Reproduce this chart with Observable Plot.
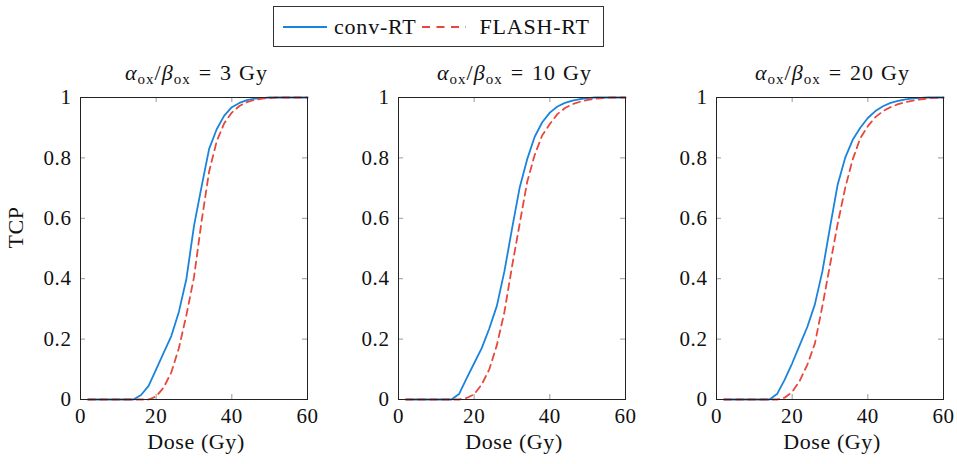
<!DOCTYPE html>
<html>
<head>
<meta charset="utf-8">
<script src="https://cdn.jsdelivr.net/npm/d3@7"></script>
<script src="https://cdn.jsdelivr.net/npm/@observablehq/plot@0.6"></script>
<style>
  html, body { margin: 0; padding: 0; background: white; }
  #chart { position: relative; width: 957px; height: 464px; color: #111; overflow: hidden; }
  .panel { position: absolute; top: 0; overflow: visible; }
  .title { position: absolute; top: 60px; width: 300px; text-align: center; white-space: nowrap; }
  .title sub { vertical-align: -4px; line-height: 0; }
  #legend { position: absolute; left: 273px; top: 6px; width: 329px; height: 39px; border: 1px solid #333; box-sizing: content-box; display: flex; align-items: center; }
  #legend .item { display: flex; align-items: center; }
  #legend svg { display: block; }
</style>
</head>
<body>
<div id="chart">
  <div id="legend"></div>
</div>
<script>
// ---- data ----
const doses = [2,4,6,8,10,12,14,16,18,20,22,24,26,28,30,32,34,36,38,40,42,44,46,48,50,52,54,56,58,60];
const panelTitles = ["3", "10", "20"];
const seriesNames = ["conv-RT", "FLASH-RT"];
const conv3  = [0,0,0,0,0,0,0,0.015,0.045,0.10,0.155,0.21,0.29,0.40,0.575,0.705,0.83,0.895,0.94,0.968,0.982,0.991,0.996,0.998,1,1,1,1,1,1];
const flash3 = [0,0,0,0,0,0,0,0,0,0.01,0.04,0.09,0.17,0.28,0.405,0.59,0.755,0.855,0.915,0.95,0.972,0.985,0.992,0.996,0.998,1,1,1,1,1];
const conv10  = [0,0,0,0,0,0,0,0.018,0.07,0.12,0.17,0.235,0.31,0.425,0.565,0.70,0.795,0.87,0.918,0.95,0.97,0.982,0.99,0.995,0.998,1,1,1,1,1];
const flash10 = [0,0,0,0,0,0,0,0,0.005,0.017,0.05,0.10,0.18,0.29,0.44,0.58,0.72,0.81,0.875,0.912,0.945,0.965,0.978,0.986,0.992,0.996,0.998,1,1,1];
const conv20  = [0,0,0,0,0,0,0,0.018,0.065,0.12,0.18,0.24,0.315,0.425,0.57,0.71,0.80,0.86,0.90,0.932,0.955,0.971,0.982,0.989,0.994,0.997,0.999,1,1,1];
const flash20 = [0,0,0,0,0,0,0,0,0.006,0.025,0.062,0.115,0.185,0.31,0.445,0.58,0.70,0.795,0.865,0.905,0.935,0.955,0.968,0.978,0.985,0.99,0.994,0.997,0.999,1];
const xTicks = [0, 20, 40, 60];
const yTicks = [0, 0.2, 0.4, 0.6, 0.8, 1];
const xInner = [20, 40];
const yInner = [0.2, 0.4, 0.6, 0.8];

const convAll = [conv3, conv10, conv20];
const flashAll = [flash3, flash10, flash20];

// ---- styles ----
const BLUE = "#1a84dc";
const RED = "#e8483c";
const DASH = "7,5";
const FONT = "'Liberation Serif', serif";
const FS = 21;
const frameLefts = [80, 398, 716];
const ML = 80, FW = 227, MR = 16, MT = 97, MB = 65, H = 464;
const TL = 5; // tick length

const chart = document.getElementById("chart");

for (let i = 0; i < 3; i++) {
  const conv = doses.map((d, j) => ({dose: d, tcp: convAll[i][j]}));
  const flash = doses.map((d, j) => ({dose: d, tcp: flashAll[i][j]}));
  const FH = H - MT - MB;
  const marks = [
    Plot.ruleX(xInner, {x: d => d, stroke: "#999", strokeWidth: 1, insetTop: FH - TL}),
    Plot.ruleX(xInner, {x: d => d, stroke: "#999", strokeWidth: 1, insetBottom: FH - TL}),
    Plot.ruleY(yInner, {y: d => d, stroke: "#999", strokeWidth: 1, insetRight: FW - TL}),
    Plot.ruleY(yInner, {y: d => d, stroke: "#999", strokeWidth: 1, insetLeft: FW - TL}),
    Plot.line(conv, {x: "dose", y: "tcp", stroke: BLUE, strokeWidth: 1.8}),
    Plot.line(flash, {x: "dose", y: "tcp", stroke: RED, strokeWidth: 1.8, strokeDasharray: DASH}),
    Plot.frame({stroke: "#222", strokeWidth: 1}),
    Plot.axisX({ticks: xTicks, tickSize: 0, tickPadding: 9, label: null, fontSize: FS, fontFamily: FONT, tickFormat: d => String(d)}),
    Plot.axisY({ticks: yTicks, tickSize: 0, tickPadding: 9, label: null, fontSize: FS, fontFamily: FONT, tickFormat: d => String(d)}),
    Plot.text(["Dose (Gy)"], {frameAnchor: "bottom", dy: 49, dx: 2, text: d => d, fontSize: 22, fontFamily: FONT, style: "letter-spacing:1.2px"})
  ];
  if (i === 0) {
    marks.push(Plot.text(["TCP"], {frameAnchor: "left", dx: -65, rotate: -90, text: d => d, fontSize: 22, fontFamily: FONT}));
  }
  const p = Plot.plot({
    width: ML + FW + MR,
    height: H,
    marginLeft: ML, marginRight: MR, marginTop: MT, marginBottom: MB,
    style: {background: "transparent", fontFamily: FONT, fontSize: FS + "px", color: "#111", letterSpacing: "0.6px", overflow: "visible"},
    x: {domain: [0, 60]},
    y: {domain: [0, 1]},
    marks
  });
  p.classList.add("panel");
  p.style.left = (frameLefts[i] - ML) + "px";
  chart.appendChild(p);

  const t = document.createElement("div");
  t.className = "title";
  t.style.left = (frameLefts[i] + FW / 2 - 150 + 3) + "px";
  t.style.fontFamily = FONT;
  t.style.fontSize = "22px";
  t.style.letterSpacing = "1px";
  t.innerHTML = `<i>α</i><sub>ox</sub>/<i>β</i><sub>ox</sub><span class="eq">=</span>${panelTitles[i]}<span class="sp"></span>Gy`;
  t.querySelectorAll("sub").forEach(s => { s.style.fontSize = "15px"; s.style.fontFamily = FONT; });
  t.querySelector(".eq").style.margin = "0 8px";
  t.querySelector(".sp").style.marginLeft = "7px";
  chart.appendChild(t);
}

// legend
const legend = document.getElementById("legend");
legend.style.fontFamily = FONT;
legend.style.fontSize = "22px";
legend.style.letterSpacing = "0.8px";
function swatch(color, dash) {
  const s = d3.create("svg").attr("width", 44).attr("height", 10);
  s.append("line").attr("x1", 0).attr("x2", 44).attr("y1", 5).attr("y2", 5)
    .attr("stroke", color).attr("stroke-width", 2).attr("stroke-dasharray", dash || null);
  return s.node();
}
[[BLUE, null], [RED, "8,6.5"]].forEach(([c, dsh], k) => {
  const it = document.createElement("div");
  it.className = "item";
  it.style.marginLeft = (k === 0 ? 9 : 6) + "px";
  it.appendChild(swatch(c, dsh));
  const sp = document.createElement("span");
  sp.textContent = seriesNames[k];
  sp.style.fontFamily = FONT;
  sp.style.marginLeft = (k === 0 ? 7 : 13) + "px";
  it.appendChild(sp);
  legend.appendChild(it);
});
</script>
</body>
</html>
